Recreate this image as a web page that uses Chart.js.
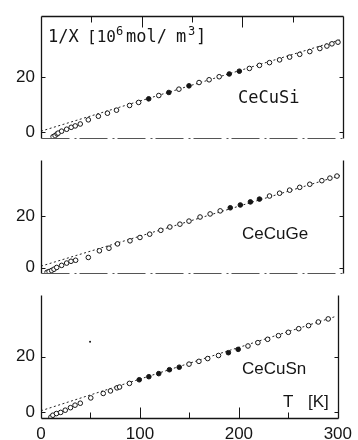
<!DOCTYPE html>
<html><head><meta charset="utf-8">
<script src="https://cdn.jsdelivr.net/npm/chart.js@4.4.1/dist/chart.umd.min.js"></script>
<style>
html,body{margin:0;padding:0;background:#fff}
#wrap{position:relative;width:358px;height:440px;overflow:hidden;background:#fff}
canvas{position:absolute;left:0}
</style>
</head><body><div id="wrap">
<canvas id="p0" width="358" height="154" style="top:0px"></canvas>
<canvas id="p1" width="358" height="145" style="top:144px"></canvas>
<canvas id="p2" width="358" height="161" style="top:279px"></canvas>
</div>
<script>
// ---- tick labels / categories ----
const xTickLabels = [0, 100, 200, 300];
const xMinorTicks = [50, 100, 150, 200, 250];
const yTickLabels = [0, 20];
const panelNames = ['CeCuSi', 'CeCuGe', 'CeCuSn'];

// ---- CeCuSi ----
const siOpenT = [12, 14, 16, 17, 20.5, 25.5, 30, 34, 39, 47, 57, 66, 75, 88, 97, 117, 137, 157, 167, 177, 207, 217, 227, 237, 247, 257, 267, 277, 284, 289, 295];
const siOpenV = [-1.6, -1.2, -0.6, -0.3, 0.4, 1.1, 1.8, 2.3, 3.0, 4.5, 5.8, 6.9, 8.0, 9.7, 10.8, 13.3, 15.6, 18.0, 19.0, 20.1, 23.1, 24.2, 25.2, 26.2, 27.2, 28.2, 29.2, 30.3, 31.2, 32.0, 32.6];
const siFillT = [107, 127, 147, 187, 197];
const siFillV = [12.1, 14.4, 16.8, 21.1, 22.1];
const siFitT = [0, 297];
const siFitV = [0.4, 33.4];

// ---- CeCuGe ----
const geOpenT = [6, 8, 10.6, 12.9, 15.6, 20.5, 25.5, 29.8, 34.4, 47, 58, 67.5, 76, 88.4, 98.3, 108, 119, 128, 138, 147, 158, 168, 178, 227, 237, 247, 257, 267, 279, 287, 294];
const geOpenV = [-1.8, -1.5, -1.1, -0.6, 0.1, 0.9, 1.8, 2.5, 2.9, 4.0, 6.6, 7.6, 9.3, 10.5, 11.8, 13.1, 14.6, 15.9, 17.0, 18.2, 19.8, 21.0, 22.2, 28.0, 29.1, 30.3, 31.4, 32.6, 34.0, 35.0, 35.8];
const geFillT = [188, 198, 208, 217];
const geFillV = [23.4, 24.5, 25.7, 26.8];
const geFitT = [0, 297];
const geFitV = [0.6, 36.0];

// ---- CeCuSn ----
const snOpenT = [10, 12, 15.6, 19.9, 24.5, 29.8, 34.4, 39.7, 50.3, 62.9, 70.2, 76.8, 79.4, 89.4, 149.6, 159.6, 168.5, 179.4, 209.2, 219.2, 229.1, 240, 250, 260.5, 270.4, 280.3, 290.3];
const snOpenV = [-1.7, -1.0, -0.4, 0.0, 0.8, 1.7, 2.6, 3.3, 5.2, 6.8, 7.7, 8.8, 9.1, 10.4, 17.3, 18.3, 19.3, 20.4, 23.8, 25.0, 26.2, 27.5, 28.7, 30.0, 31.1, 32.4, 33.5];
const snFillT = [99.3, 109, 119, 129.8, 139.7, 189.4, 199.3];
const snFillV = [11.7, 12.8, 13.9, 15.3, 16.2, 21.4, 22.6];
const snFitT = [0, 297];
const snFitV = [0.6, 34.3];
const snSpeckT = [49.6];
const snSpeckV = [25.3];

const pts = (t, v) => t.map((x, i) => ({x: x, y: v[i]}));
const INK = '#151515';
Chart.defaults.font.family = "'Liberation Sans', Arial, sans-serif";
Chart.defaults.color = INK;

function datasets(openT, openV, fillT, fillV, fitT, fitV, extra) {
  const ds = [
    {data: pts(openT, openV), pointStyle: 'circle', pointRadius: 2.3, borderWidth: 1,
     borderColor: INK, backgroundColor: '#fff', showLine: false},
    {data: pts(fillT, fillV), pointStyle: 'circle', pointRadius: 2.3, borderWidth: 1,
     borderColor: INK, backgroundColor: INK, showLine: false}
  ];
  if (extra) ds.push(extra);
  ds.push({data: pts(fitT, fitV), showLine: true, pointRadius: 0, borderWidth: 1,
           borderColor: '#222', borderDash: [2, 2.5], fill: false});
  return ds;
}

function makePanel(id, canvasTop, cfg) {
  const framePlugin = {
    id: 'frame' + id,
    afterDatasetsDraw(chart) {
      const {ctx, chartArea: a, scales: {x, y}} = chart;
      const L = Math.round(a.left) + 0.5, R = Math.round(a.right) + 0.5;
      const T = Math.round(a.top) + 0.5, B = Math.round(a.bottom) + 0.5;
      ctx.save();
      ctx.strokeStyle = INK;
      ctx.lineWidth = 1.3;
      ctx.beginPath();
      ctx.moveTo(L, T); ctx.lineTo(L, B);
      ctx.moveTo(R, T); ctx.lineTo(R, B);
      if (cfg.topSolid) { ctx.moveTo(L, T); ctx.lineTo(R, T); }
      if (cfg.bottomSolid) { ctx.moveTo(L, B); ctx.lineTo(R, B); }
      ctx.stroke();
      if (cfg.bottomSep) {
        ctx.strokeStyle = '#555';
        ctx.lineWidth = 1;
        ctx.setLineDash([28, 5, 2, 3]);
        ctx.beginPath(); ctx.moveTo(L, B); ctx.lineTo(R, B); ctx.stroke();
        ctx.setLineDash([]);
      }
      // y ticks (inward)
      ctx.strokeStyle = INK; ctx.lineWidth = 1;
      ctx.beginPath();
      yTickLabels.forEach(v => {
        const py = Math.round(y.getPixelForValue(v)) + 0.5;
        ctx.moveTo(L, py); ctx.lineTo(L + 4, py);
        ctx.moveTo(R, py); ctx.lineTo(R - 4, py);
      });
      // x ticks (inward)
      xMinorTicks.forEach(v => {
        const px = Math.round(x.getPixelForValue(v)) + 0.5;
        const len = (v % 100 === 0) ? 11 : 6;
        if (cfg.topSolid) { ctx.moveTo(px, T); ctx.lineTo(px, T + len); }
        if (cfg.bottomSolid) { ctx.moveTo(px, B); ctx.lineTo(px, B - len); }
      });
      ctx.stroke();
      // texts (page coords -> canvas coords)
      ctx.fillStyle = INK;
      ctx.textBaseline = 'alphabetic';
      ctx.textAlign = 'left';
      cfg.texts.forEach(t => {
        ctx.font = t.font;
        ctx.fillText(t.s, t.x, t.y - canvasTop);
      });
      ctx.restore();
    }
  };

  const xScale = {
    type: 'linear', min: 0, max: 300,
    display: !!cfg.showX,
    grid: {display: false, drawTicks: false},
    border: {display: false},
    ticks: {padding: 6, font: {size: 17}, color: INK, maxRotation: 0},
    afterBuildTicks: s => { s.ticks = xTickLabels.map(v => ({value: v})); },
    afterFit: s => { s.height = cfg.showX ? 22 : 0; }
  };
  const yScale = {
    type: 'linear', min: -2, max: 42,
    grid: {display: false, drawTicks: false},
    border: {display: false},
    ticks: {padding: 6, font: {size: 17}, color: INK},
    afterBuildTicks: s => { s.ticks = yTickLabels.map(v => ({value: v})); },
    afterFit: s => { s.width = 41; }
  };

  return new Chart(document.getElementById(id), {
    type: 'scatter',
    data: {datasets: cfg.datasets},
    options: {
      responsive: false, animation: false, maintainAspectRatio: false,
      layout: {padding: {top: cfg.padTop, bottom: cfg.padBottom, left: 0, right: 15}},
      plugins: {legend: {display: false}, tooltip: {enabled: false}},
      scales: {x: xScale, y: yScale}
    },
    plugins: [framePlugin]
  });
}

const MONO = "17px 'DejaVu Sans Mono', monospace";
const MONO_S = "16px 'DejaVu Sans Mono', monospace";
const MONO_SUP = "12px 'DejaVu Sans Mono', monospace";
const SANS = "17px 'Liberation Sans', Arial, sans-serif";

makePanel('p0', 0, {
  datasets: datasets(siOpenT, siOpenV, siFillT, siFillV, siFitT, siFitV),
  padTop: 14, padBottom: 5, topSolid: true, bottomSep: true,
  texts: [
    {s: '1/X', x: 48, y: 42, font: MONO},
    {s: '[10', x: 87, y: 42, font: MONO_S},
    {s: '6', x: 116, y: 35, font: MONO_SUP},
    {s: 'mol/', x: 126, y: 42, font: MONO},
    {s: 'm', x: 176, y: 42, font: MONO},
    {s: '3', x: 188, y: 35, font: MONO_SUP},
    {s: ']', x: 196, y: 42, font: MONO}
  ].concat([{s: panelNames[0], x: 238, y: 103, font: MONO}])
});

makePanel('p1', 144, {
  datasets: datasets(geOpenT, geOpenV, geFillT, geFillV, geFitT, geFitV),
  padTop: 5, padBottom: 5, bottomSep: true,
  texts: [
    {s: panelNames[1], x: 242, y: 239, font: SANS}
  ]
});

makePanel('p2', 279, {
  datasets: datasets(snOpenT, snOpenV, snFillT, snFillV, snFitT, snFitV,
    {data: pts(snSpeckT, snSpeckV), pointRadius: 1, borderWidth: 0,
     backgroundColor: INK, showLine: false}),
  padTop: 5, padBottom: 0, bottomSolid: true, showX: true,
  texts: [
    {s: panelNames[2], x: 242, y: 374, font: SANS},
    {s: 'T', x: 283, y: 407, font: SANS},
    {s: '[K]', x: 308, y: 407, font: SANS}
  ]
});
</script>
</body></html>
